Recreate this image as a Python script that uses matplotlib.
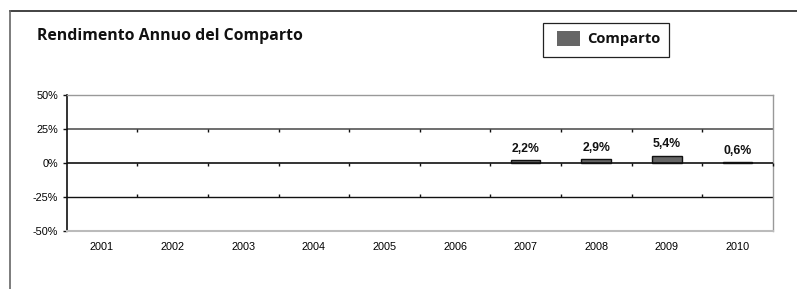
import matplotlib
matplotlib.use("Agg")
import matplotlib.pyplot as plt
from matplotlib.patches import Rectangle
from matplotlib.lines import Line2D
import numpy as np

years = ["2001", "2002", "2003", "2004", "2005", "2006", "2007", "2008", "2009", "2010"]
comparto = [np.nan, np.nan, np.nan, np.nan, np.nan, np.nan, 2.2, 2.9, 5.4, 0.6]
yticks = [-50, -25, 0, 25, 50]
ytick_labels = ["-50%", "-25%", "0%", "25%", "50%"]
title = "Rendimento Annuo del Comparto"
series_name = "Comparto"

W, H = 797, 289
fig = plt.figure(figsize=(W / 100, H / 100), dpi=100)
fig.patch.set_facecolor("white")

def fx(px):
    return px / W

def fy(py):
    return 1 - py / H

# outer frame lines (top and left)
fig.add_artist(Line2D([fx(10), 1.0], [fy(11), fy(11)], color="#222222", lw=1.2, transform=fig.transFigure))
fig.add_artist(Line2D([fx(10), fx(10)], [fy(11), 0.0], color="#666666", lw=1.2, transform=fig.transFigure))

left, right, top, bottom = 66.7, 772.7, 95, 231
ax = fig.add_axes([fx(left), fy(bottom), fx(right - left), fy(top) - fy(bottom)])

x = np.arange(len(years))
vals = np.array(comparto, dtype=float)
ax.bar(x, vals, width=0.42, color="#666666", edgecolor="#111111", linewidth=1.0, zorder=3)

for xi, v in zip(x, vals):
    if not np.isnan(v):
        ax.text(xi, v + 4.0, f"{v:.1f}%".replace(".", ","), ha="center", va="bottom",
                fontsize=8.8, fontweight="bold", family="Liberation Sans", color="#111111")

ax.set_xlim(-0.5, len(years) - 0.5)
ax.set_ylim(-50, 50)
ax.set_yticks(yticks)
ax.set_yticklabels(ytick_labels, family="Liberation Sans", fontsize=7.8)
ax.set_xticks(x)
ax.set_xticklabels(years, family="Liberation Sans", fontsize=7.8)
ax.tick_params(axis="x", length=0, pad=8)
ax.tick_params(axis="y", length=3, width=1, pad=3, direction="out", color="#111111")

ax.axhline(25, color="#555555", lw=1.2, zorder=1)
ax.axhline(-25, color="#111111", lw=1.0, zorder=1)
ax.axhline(0, color="#111111", lw=1.2, zorder=4)

# small category-boundary tick marks on the gridlines
bounds = np.arange(0.5, len(years) - 0.5, 1.0)
tl = 2.3
ax.vlines(bounds, 25 - tl, 25, color="#111111", lw=1.0, zorder=4)
ax.vlines(bounds, -tl, 0, color="#111111", lw=1.0, zorder=4)
ax.vlines(bounds, -25, -25 + tl, color="#111111", lw=1.0, zorder=4)
ax.vlines([len(years) - 0.5], -tl, 0, color="#111111", lw=1.0, zorder=4, clip_on=False)

for s in ["top", "right"]:
    ax.spines[s].set_color("#999999")
    ax.spines[s].set_linewidth(1.0)
ax.spines["bottom"].set_color("#bbbbbb")
ax.spines["bottom"].set_linewidth(1.5)
ax.spines["left"].set_color("#111111")
ax.spines["left"].set_linewidth(1.2)

fig.text(fx(37), fy(36), title, fontsize=11.4, fontweight="bold", family="Open Sans",
         ha="left", va="center", color="#111111")

# legend
fig.add_artist(Rectangle((fx(543), fy(57)), fx(126), fy(23) - fy(57), transform=fig.transFigure,
                         facecolor="white", edgecolor="#222222", lw=0.9))
fig.add_artist(Rectangle((fx(557), fy(46)), fx(23), fy(31) - fy(46), transform=fig.transFigure,
                         facecolor="#666666", edgecolor="none"))
fig.text(fx(587), fy(39.5), series_name, fontsize=10.6, fontweight="bold", family="Open Sans",
         ha="left", va="center", color="#111111")

fig.savefig("out.png", dpi=100, facecolor="white")
